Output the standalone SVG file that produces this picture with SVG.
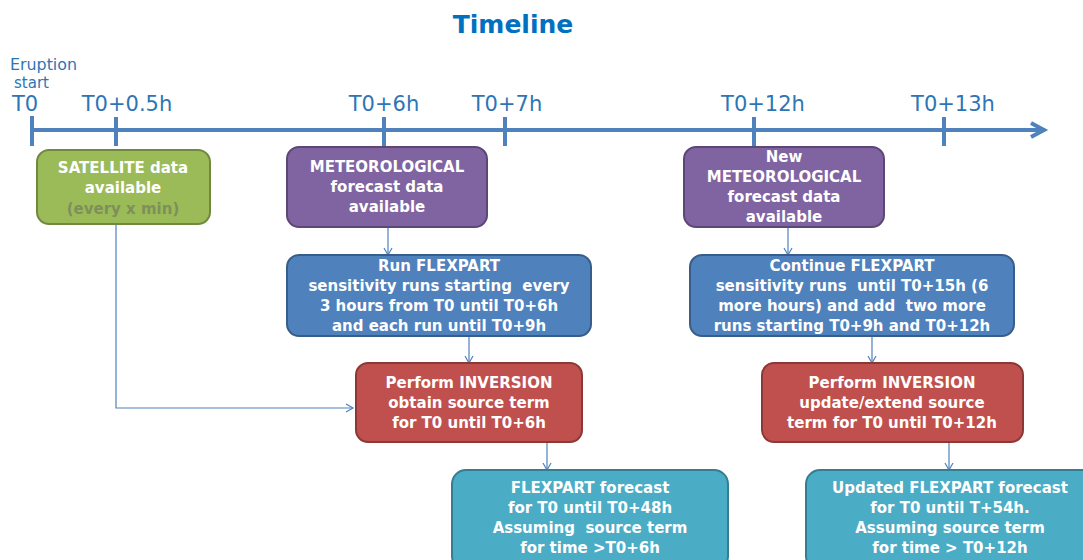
<svg xmlns="http://www.w3.org/2000/svg" width="1083" height="560" viewBox="0 0 1083 560">
  <defs>
    <style>
      .title { font-family: "DejaVu Sans", sans-serif; font-weight: bold; font-size: 25px; fill: #0070C0; }
      .tick { font-family: "DejaVu Sans", sans-serif; font-size: 21px; fill: #2E75B6; }
      .small { font-family: "DejaVu Sans", sans-serif; font-size: 15px; fill: #2E75B6; }
      .axis { stroke: #4F81BD; stroke-width: 4; fill: none; }
      .conn { stroke: #4F81BD; stroke-width: 1.2; fill: none; }
      .box { stroke-width: 2; }
      .lbl { font-family: "DejaVu Sans", sans-serif; font-weight: bold; font-size: 15px; fill: #FFFFFF; text-anchor: middle; white-space: pre; }
      .green { fill: #9BBB59; stroke: #71893F; }
      .purple { fill: #8064A2; stroke: #5C4776; }
      .blue { fill: #4F81BD; stroke: #385D8A; }
      .red { fill: #C0504D; stroke: #8C3836; }
      .teal { fill: #4BACC6; stroke: #357D91; }
    </style>
    <marker id="open" markerWidth="10" markerHeight="10" refX="8" refY="5" orient="auto" markerUnits="userSpaceOnUse">
      <path d="M1,1 L8,5 L1,9" fill="none" stroke="#4F81BD" stroke-width="1.2"/>
    </marker>
    <marker id="axisHead" markerWidth="24" markerHeight="20" refX="20" refY="10" orient="auto" markerUnits="userSpaceOnUse">
      <path d="M6,3 L19,10 L6,17" fill="none" stroke="#4F81BD" stroke-width="4"/>
    </marker>
  </defs>

  <text class="title" x="513" y="33" text-anchor="middle">Timeline</text>

  <!-- time axis -->
  <g id="axis">
    <line class="axis" x1="30" y1="130" x2="1045" y2="130" marker-end="url(#axisHead)"/>
    <line class="axis" x1="32" y1="116" x2="32" y2="146"/>
    <line class="axis" x1="116" y1="117" x2="116" y2="146"/>
    <line class="axis" x1="384" y1="117" x2="384" y2="146"/>
    <line class="axis" x1="505" y1="117" x2="505" y2="146"/>
    <line class="axis" x1="754" y1="117" x2="754" y2="146"/>
    <line class="axis" x1="944" y1="117" x2="944" y2="146"/>
    <text class="small" x="10" y="70" textLength="67" lengthAdjust="spacingAndGlyphs">Eruption</text>
    <text class="small" x="14" y="87.5">start</text>
    <text class="tick" x="12" y="111">T0</text>
    <text class="tick" x="127" y="111" text-anchor="middle">T0+0.5h</text>
    <text class="tick" x="384" y="111" text-anchor="middle">T0+6h</text>
    <text class="tick" x="507" y="111" text-anchor="middle">T0+7h</text>
    <text class="tick" x="763" y="111" text-anchor="middle">T0+12h</text>
    <text class="tick" x="953" y="111" text-anchor="middle">T0+13h</text>
  </g>

  <!-- connectors -->
  <g id="connectors">
    <path class="conn" d="M116,224 V408 H353" marker-end="url(#open)"/>
    <path class="conn" d="M388,227 V255" marker-end="url(#open)"/>
    <path class="conn" d="M788,227 V255" marker-end="url(#open)"/>
    <path class="conn" d="M469,336 V363" marker-end="url(#open)"/>
    <path class="conn" d="M872,336 V363" marker-end="url(#open)"/>
    <path class="conn" d="M547,442 V470" marker-end="url(#open)"/>
    <path class="conn" d="M949,442 V470" marker-end="url(#open)"/>
  </g>

  <g id="satellite">
    <rect class="box green" x="37" y="150" width="173" height="74" rx="12"/>
    <text class="lbl" x="123" y="173">SATELLITE data</text>
    <text class="lbl" x="123" y="193">available</text>
    <text class="lbl" x="123" y="214" style="fill:#7E8F5A">(every x min)</text>
  </g>

  <g id="meteo1">
    <rect class="box purple" x="287" y="147" width="200" height="80" rx="12"/>
    <text class="lbl" x="387" y="172">METEOROLOGICAL</text>
    <text class="lbl" x="387" y="192">forecast data</text>
    <text class="lbl" x="387" y="212">available</text>
  </g>

  <g id="meteo2">
    <rect class="box purple" x="684" y="147" width="200" height="80" rx="12"/>
    <text class="lbl" x="784" y="162">New</text>
    <text class="lbl" x="784" y="182">METEOROLOGICAL</text>
    <text class="lbl" x="784" y="202">forecast data</text>
    <text class="lbl" x="784" y="222">available</text>
  </g>

  <g id="run1">
    <rect class="box blue" x="287" y="255" width="304" height="81" rx="12"/>
    <text class="lbl" x="439" y="271">Run FLEXPART</text>
    <text class="lbl" x="439" y="291">sensitivity runs starting  every</text>
    <text class="lbl" x="439" y="311">3 hours from T0 until T0+6h</text>
    <text class="lbl" x="439" y="331">and each run until T0+9h</text>
  </g>

  <g id="run2">
    <rect class="box blue" x="690" y="255" width="324" height="81" rx="12"/>
    <text class="lbl" x="852" y="271">Continue FLEXPART</text>
    <text class="lbl" x="852" y="291">sensitivity runs  until T0+15h (6</text>
    <text class="lbl" x="852" y="311">more hours) and add  two more</text>
    <text class="lbl" x="852" y="331">runs starting T0+9h and T0+12h</text>
  </g>

  <g id="inv1">
    <rect class="box red" x="356" y="363" width="226" height="79" rx="12"/>
    <text class="lbl" x="469" y="388">Perform INVERSION</text>
    <text class="lbl" x="469" y="408">obtain source term</text>
    <text class="lbl" x="469" y="428">for T0 until T0+6h</text>
  </g>

  <g id="inv2">
    <rect class="box red" x="762" y="363" width="261" height="79" rx="12"/>
    <text class="lbl" x="892" y="388">Perform INVERSION</text>
    <text class="lbl" x="892" y="408">update/extend source</text>
    <text class="lbl" x="892" y="428">term for T0 until T0+12h</text>
  </g>

  <g id="fc1">
    <rect class="box teal" x="452" y="470" width="276" height="100" rx="14"/>
    <text class="lbl" x="590" y="493">FLEXPART forecast</text>
    <text class="lbl" x="590" y="513">for T0 until T0+48h</text>
    <text class="lbl" x="590" y="533">Assuming  source term</text>
    <text class="lbl" x="590" y="553">for time &gt;T0+6h</text>
  </g>

  <g id="fc2">
    <rect class="box teal" x="806" y="470" width="290" height="100" rx="14"/>
    <text class="lbl" x="950" y="493">Updated FLEXPART forecast</text>
    <text class="lbl" x="950" y="513">for T0 until T+54h.</text>
    <text class="lbl" x="950" y="533">Assuming source term</text>
    <text class="lbl" x="950" y="553">for time &gt; T0+12h</text>
  </g>
</svg>
